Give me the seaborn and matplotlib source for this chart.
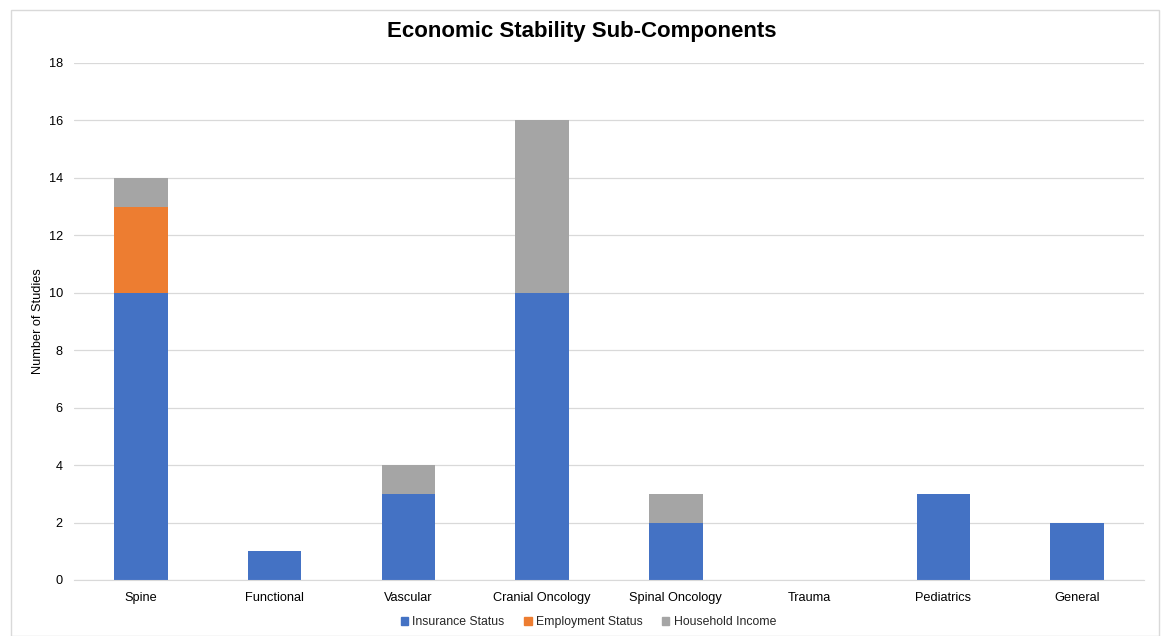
import numpy as np
import pandas as pd
import matplotlib.pyplot as plt
import seaborn as sns
from matplotlib.patches import Rectangle, Patch

categories = ['Spine', 'Functional', 'Vascular', 'Cranial Oncology', 'Spinal Oncology',
              'Trauma', 'Pediatrics', 'General']
insurance = [10, 1, 3, 10, 2, 0, 3, 2]
employment = [3, 0, 0, 0, 0, 0, 0, 0]
household = [1, 0, 1, 6, 1, 0, 0, 0]

colors = {'Insurance Status': '#4472C4', 'Employment Status': '#ED7D31', 'Household Income': '#A5A5A5'}

df = pd.DataFrame({'Category': categories, 'Insurance Status': insurance,
                   'Employment Status': employment, 'Household Income': household})
df['ins_emp'] = df['Insurance Status'] + df['Employment Status']
df['total'] = df['ins_emp'] + df['Household Income']

sns.set_style('white')
plt.rcParams['font.family'] = ['Liberation Sans', 'DejaVu Sans']

fig = plt.figure(figsize=(11.63, 6.36), dpi=100)
ax = fig.add_axes([0.0636, 0.0881, 0.92, 0.813])

# stacked bars: draw cumulative totals back to front
sns.barplot(data=df, x='Category', y='total', color=colors['Household Income'],
            width=0.4, saturation=1, linewidth=0, ax=ax, zorder=2)
sns.barplot(data=df, x='Category', y='ins_emp', color=colors['Employment Status'],
            width=0.4, saturation=1, linewidth=0, ax=ax, zorder=2)
sns.barplot(data=df, x='Category', y='Insurance Status', color=colors['Insurance Status'],
            width=0.4, saturation=1, linewidth=0, ax=ax, zorder=2)

ax.set_ylim(0, 18)
ax.set_yticks(range(0, 19, 2))
ax.set_xlim(-0.5, len(categories) - 0.5)
ax.yaxis.grid(True, color='#D9D9D9', linewidth=0.9, zorder=0)
ax.set_axisbelow(True)
for s in ['top', 'right', 'left']:
    ax.spines[s].set_visible(False)
ax.spines['bottom'].set_color('#D9D9D9')
ax.tick_params(axis='both', length=0, labelsize=9.2, colors='#000000')
ax.tick_params(axis='x', pad=9)
ax.tick_params(axis='y', pad=8)
ax.set_xlabel('')
ax.set_ylabel('Number of Studies', fontsize=9.2, labelpad=3, color='#000000')

fig.suptitle('Economic Stability Sub-Components', fontsize=16, fontweight='bold',
             y=0.967, color='#000000')

handles = [Patch(color=c, label=k) for k, c in colors.items()]
fig.legend(handles=handles, loc='center', bbox_to_anchor=(0.506, 0.022), ncol=3,
           frameon=False, fontsize=8.8, handlelength=0.6, handleheight=0.6,
           handletextpad=0.35, columnspacing=1.6)

fig.patches.append(Rectangle((11 / 1163, 0), 1148 / 1163, 1 - 10 / 636,
                             transform=fig.transFigure, fill=False,
                             edgecolor='#D9D9D9', linewidth=1.0))

fig.savefig('out.png', dpi=100, facecolor='white')
